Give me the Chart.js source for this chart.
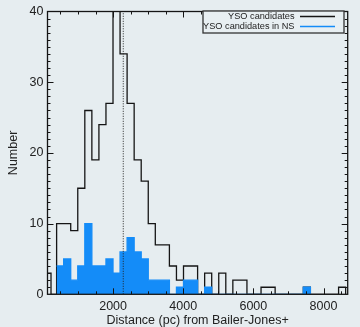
<!DOCTYPE html>
<html>
<head>
<meta charset="utf-8">
<script src="https://cdn.jsdelivr.net/npm/chart.js@4"></script>
<style>
  html, body { margin: 0; padding: 0; background: #e6edf0; overflow: hidden; }
  #wrap { position: relative; width: 360px; height: 327px; }
</style>
</head>
<body>
<div id="wrap"><canvas id="c" width="360" height="327"></canvas></div>
<script>
// ---- data ----
// bin edges (pc): left edge of each bin, plus final right edge
const binEdges = [390, 591, 792, 993, 1194, 1395, 1596, 1797, 1998, 2199,
  2400, 2601, 2802, 3003, 3204, 3405, 3606, 3807, 4008, 4209,
  4410, 4611, 4812, 5013, 5214, 5415, 5616, 5817, 6018, 6219,
  6420, 6621, 6822, 7023, 7224, 7425, 7626, 7827, 8028, 8229,
  8430, 8631];
// partial bin at the left edge of the axis (all candidates)
const leadEdges = [130, 230];
const leadCounts = [3, 0];
// YSO candidates (all)
const allCounts = [10, 10, 9, 15, 26, 19, 24, 27, 46, 34,
  27, 19, 16, 10, 7, 7, 4, 2, 4, 4,
  0, 3, 0, 3, 0, 2, 2, 0, 0, 1,
  1, 0, 0, 0, 0, 1, 0, 0, 0, 0,
  1];
// YSO candidates in NS
const nsCounts = [4, 5, 2, 4, 10, 4, 4, 5, 3, 6,
  8, 6, 5, 2, 2, 2, 0, 1, 2, 2,
  0, 1, 0, 0, 0, 0, 0, 0, 0, 0,
  0, 0, 0, 0, 0, 1];
const medianDistance = 2290;
const xTickLabels = [2000, 4000, 6000, 8000];
const yTickLabels = [0, 10, 20, 30, 40];
const seriesNames = ['YSO candidates', 'YSO candidates in NS'];
const xRange = [130, 8690];
const yRange = [0, 40];

// ---- build step-histogram point lists ----
function stepPoints(edges, counts) {
  const pts = counts.map((c, i) => ({ x: edges[i], y: c }));
  pts.push({ x: edges[counts.length], y: 0 });
  return pts;
}
const allPts = leadEdges.map((e, i) => ({ x: e, y: leadCounts[i] }))
  .concat(stepPoints(binEdges, allCounts));
const nsPts = stepPoints(binEdges, nsCounts);

const BLUE = 'rgb(20,140,248)';
const INK = '#151515';
const FONT = '"Liberation Sans", Arial, Helvetica, sans-serif';

const framePlugin = {
  id: 'frameTicks',
  afterDatasetsDraw(chart) {
    const { ctx, chartArea: { left, right, top, bottom }, scales: { x, y } } = chart;
    ctx.save();
    ctx.strokeStyle = INK;
    ctx.lineWidth = 1;
    ctx.beginPath();
    for (let v = 500; v < xRange[1]; v += 500) {
      const px = Math.round(x.getPixelForValue(v)) + 0.5;
      const len = v % 2000 === 0 ? 6 : 3;
      ctx.moveTo(px, bottom); ctx.lineTo(px, bottom - len);
      ctx.moveTo(px, top); ctx.lineTo(px, top + len);
    }
    for (let v = 1; v < yRange[1]; v += 1) {
      const py = Math.round(y.getPixelForValue(v)) + 0.5;
      const len = v % 10 === 0 ? 6 : 3;
      ctx.moveTo(left, py); ctx.lineTo(left + len, py);
      ctx.moveTo(right, py); ctx.lineTo(right - len, py);
    }
    ctx.stroke();
    ctx.lineWidth = 1.3;
    ctx.strokeRect(left, top, right - left, bottom - top);

    // legend
    const bx = 203, by = 11, bw = 141, bh = 22;
    ctx.lineWidth = 1.3;
    ctx.strokeStyle = '#333';
    ctx.fillStyle = '#e8eff2';
    ctx.fillRect(bx, by, bw, bh);
    ctx.strokeRect(bx, by, bw, bh);
    ctx.font = '9.2px ' + FONT;
    ctx.textAlign = 'right';
    ctx.textBaseline = 'middle';
    const cols = [INK, BLUE];
    seriesNames.forEach((n, i) => {
      const ty = 16.5 + i * 10;
      ctx.fillStyle = '#222';
      ctx.fillText(n, 294.5, ty);
      ctx.strokeStyle = cols[i];
      ctx.lineWidth = 1.3;
      ctx.beginPath();
      ctx.moveTo(300, ty); ctx.lineTo(335, ty);
      ctx.stroke();
    });
    ctx.restore();
  }
};

new Chart(document.getElementById('c'), {
  type: 'line',
  data: {
    datasets: [
      {
        label: 'median',
        data: [{ x: medianDistance, y: yRange[0] }, { x: medianDistance, y: yRange[1] }],
        borderColor: '#222',
        borderWidth: 1,
        borderDash: [1, 1.5],
        pointRadius: 0,
        order: 1
      },
      {
        label: seriesNames[1],
        data: nsPts,
        stepped: 'before',
        borderColor: BLUE,
        backgroundColor: BLUE,
        borderWidth: 1.3,
        fill: 'origin',
        pointRadius: 0,
        order: 2
      },
      {
        label: seriesNames[0],
        data: allPts,
        stepped: 'before',
        borderColor: INK,
        borderWidth: 1.3,
        fill: false,
        pointRadius: 0,
        order: 3
      }
    ]
  },
  options: {
    responsive: false,
    animation: false,
    events: [],
    layout: { padding: { top: 2.3, right: 12.3, left: 0, bottom: 0 } },
    plugins: { legend: { display: false }, tooltip: { enabled: false } },
    scales: {
      x: {
        type: 'linear',
        min: xRange[0], max: xRange[1],
        afterBuildTicks: s => { s.ticks = xTickLabels.map(v => ({ value: v })); },
        afterFit: s => { s.height = 32.7; },
        grid: { display: false, drawTicks: false },
        border: { display: false },
        ticks: { padding: 5, color: '#222', font: { family: FONT, size: 12.5 }, maxRotation: 0,
                 callback: v => String(v) },
        title: { display: true, text: 'Distance (pc) from Bailer-Jones+', color: '#222',
                 font: { family: FONT, size: 12.5 }, padding: { top: 0, bottom: -1.5 } }
      },
      y: {
        type: 'linear',
        min: yRange[0], max: yRange[1],
        afterBuildTicks: s => { s.ticks = yTickLabels.map(v => ({ value: v })); },
        afterFit: s => { s.width = 47.5; },
        grid: { display: false, drawTicks: false },
        border: { display: false },
        ticks: { padding: 4, color: '#222', font: { family: FONT, size: 12.5 },
                 callback: v => String(v) },
        title: { display: true, text: 'Number', color: '#222',
                 font: { family: FONT, size: 12.5 }, padding: { top: 6, bottom: 0 } }
      }
    }
  },
  plugins: [framePlugin]
});
</script>
</body>
</html>
